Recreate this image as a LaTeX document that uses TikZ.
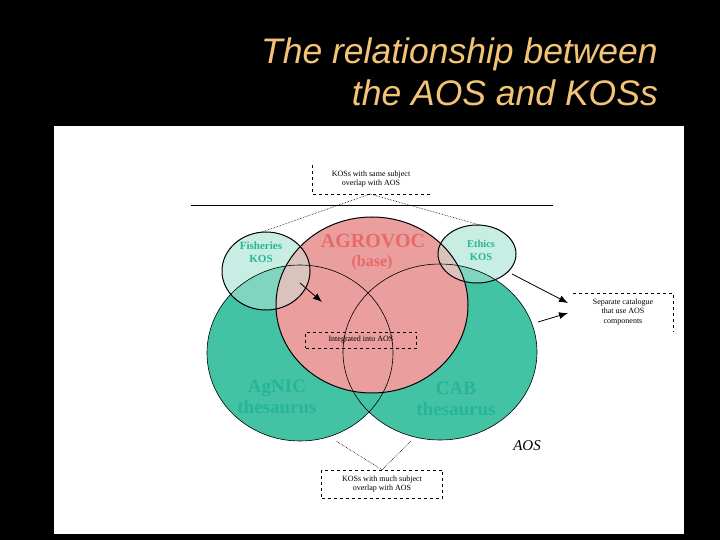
\documentclass[tikz,border=0pt]{standalone}
\usepackage{fontspec}
\setmainfont{Liberation Serif}
\newfontfamily\titlefont{Liberation Sans}
\usetikzlibrary{arrows.meta}
\definecolor{teal1}{RGB}{68,194,164}
\definecolor{tealtxt}{RGB}{40,180,150}
\definecolor{pink1}{RGB}{234,158,158}
\definecolor{pinktxt}{RGB}{232,105,105}
\definecolor{lightteal}{RGB}{200,238,228}
\definecolor{titlecol}{RGB}{244,196,118}
\tikzset{
  small/.style={font=\fontsize{8}{9.5}\selectfont, align=center, inner sep=0pt},
  tlabel/.style={font=\fontsize{19}{21}\selectfont\bfseries, text=tealtxt, align=center, inner sep=0pt},
  klabel/.style={font=\fontsize{11}{13}\selectfont\bfseries, text=tealtxt, align=center, inner sep=0pt},
  ttl/.style={anchor=base east, font=\titlefont\itshape\fontsize{35.5}{40}\selectfont, text=titlecol, inner sep=0pt},
  dbox/.style={dashed, line width=0.7pt},
  dotline/.style={densely dotted, line width=0.6pt},
  arr/.style={-{Latex[length=9pt,width=7pt]}, line width=0.8pt},
  outl/.style={line width=1pt},
}
\begin{document}
\begin{tikzpicture}[x=1pt,y=-1pt]
\useasboundingbox (0,0) rectangle (720,540);
\fill[black] (0,0) rectangle (720,540);
\fill[white] (54,126) rectangle (684,534);
% title
\node[ttl] (t1) at (658,64) {The relationship between};
\node[ttl] (t2) at (658,106) {the AOS and KOSs};
% top line
\draw[line width=0.8pt] (191,205) -- (553,205);
% coordinates
\coordinate (fc) at (266,271);
\coordinate (ec) at (477,254);
\coordinate (ac) at (300,353);
\coordinate (cc) at (440,352);
\coordinate (gc) at (372,305);
% fills
\fill[lightteal] (fc) ellipse [x radius=44pt, y radius=39pt];
\fill[lightteal] (ec) ellipse [x radius=39pt, y radius=29pt];
\fill[teal1] (ac) ellipse [x radius=93pt, y radius=88pt];
\fill[teal1] (cc) ellipse [x radius=97pt, y radius=88pt];
\fill[pink1] (gc) ellipse [x radius=96pt, y radius=88pt];
\fill[lightteal, opacity=0.45] (fc) ellipse [x radius=44pt, y radius=39pt];
\fill[lightteal, opacity=0.45] (ec) ellipse [x radius=39pt, y radius=29pt];
% outlines
\draw[line width=0.6pt] (ac) ellipse [x radius=93pt, y radius=88pt];
\draw[line width=0.6pt] (cc) ellipse [x radius=97pt, y radius=88pt];
\draw[outl] (fc) ellipse [x radius=44pt, y radius=39pt];
\draw[outl] (ec) ellipse [x radius=39pt, y radius=29pt];
\draw[outl] (gc) ellipse [x radius=96pt, y radius=88pt];
% labels
\node[font=\fontsize{20}{21}\selectfont\bfseries, text=pinktxt, inner sep=0pt] (agro) at (373,241) {AGROVOC};
\node[font=\fontsize{16}{17}\selectfont\bfseries, text=pinktxt, inner sep=0pt] (base) at (372,263) {(base)};
\node[klabel] (fish) at (261,252) {Fisheries\\KOS};
\node[klabel, font=\fontsize{10.5}{13}\selectfont\bfseries] (eth) at (481,250) {Ethics\\KOS};
\node[tlabel] (agnic) at (277,397) {AgNIC\\thesaurus};
\node[tlabel] (cab) at (456,399) {CAB\\thesaurus};
\node[font=\fontsize{15}{16}\selectfont\itshape, inner sep=0pt] (aos) at (527,446) {AOS};
% boxes
\node[small] (top) at (371,179) {KOSs with same subject\\overlap with AOS};
\draw[dbox] (312,165) -- (312,194) -- (430,194);
\coordinate (topb) at (370,194);
\node[small, draw, dashed, minimum width=111pt, minimum height=16pt] (integ) at (361,340) {Integrated into AOS};
\node[small, draw, dashed, minimum width=121pt, minimum height=28pt] (bot) at (382,484) {KOSs with much subject\\overlap with AOS};
\node[small] (sep) at (623,312) {Separate catalogue\\that use AOS\\components};
\draw[dbox] (573,293) -- (673,293) -- (673,332);
% connectors
\coordinate (fishtop) at (262,232);
\coordinate (ethtop) at (480,225);
\draw[dotline] (topb) -- (fishtop);
\draw[dotline] (topb) -- (ethtop);
\coordinate (agb) at (336,441);
\coordinate (cab2) at (411,441);
\draw[dotline] (bot.north) -- (agb);
\draw[dotline] (bot.north) -- (cab2);
\coordinate (ethout) at (512,274);
\coordinate (cabout) at (538,322);
\coordinate (sepin1) at (568,303);
\coordinate (sepin2) at (568,313);
\draw[arr] (ethout) -- (sepin1);
\draw[arr] (cabout) -- (sepin2);
\coordinate (fishout) at (300,283);
\coordinate (fishin) at (322,302);
\draw[arr] (fishout) -- (fishin);
\end{tikzpicture}
\end{document}
